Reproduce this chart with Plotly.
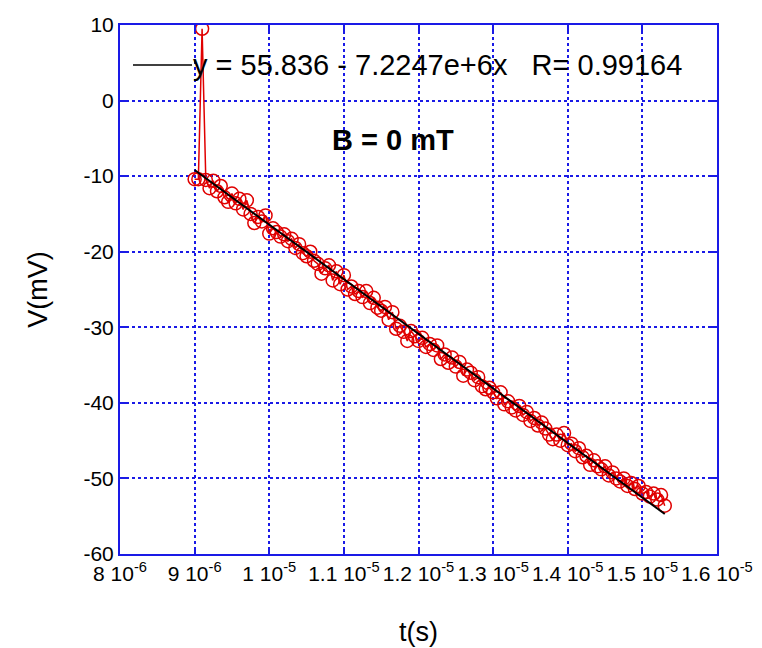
import plotly.graph_objects as go

# time in microseconds (converted to seconds below)
t_us = [9.00, 9.05, 9.10, 9.15, 9.20, 9.25, 9.30, 9.35, 9.40, 9.45,
        9.50, 9.55, 9.60, 9.65, 9.70, 9.75, 9.80, 9.85, 9.90, 9.95,
        10.00, 10.05, 10.10, 10.15, 10.20, 10.25, 10.30, 10.35, 10.40, 10.45,
        10.50, 10.55, 10.60, 10.65, 10.70, 10.75, 10.80, 10.85, 10.90, 10.95,
        11.00, 11.05, 11.10, 11.15, 11.20, 11.25, 11.30, 11.35, 11.40, 11.45,
        11.50, 11.55, 11.60, 11.65, 11.70, 11.75, 11.80, 11.85, 11.90, 11.95,
        12.00, 12.05, 12.10, 12.15, 12.20, 12.25, 12.30, 12.35, 12.40, 12.45,
        12.50, 12.55, 12.60, 12.65, 12.70, 12.75, 12.80, 12.85, 12.90, 12.95,
        13.00, 13.05, 13.10, 13.15, 13.20, 13.25, 13.30, 13.35, 13.40, 13.45,
        13.50, 13.55, 13.60, 13.65, 13.70, 13.75, 13.80, 13.85, 13.90, 13.95,
        14.00, 14.05, 14.10, 14.15, 14.20, 14.25, 14.30, 14.35, 14.40, 14.45,
        14.50, 14.55, 14.60, 14.65, 14.70, 14.75, 14.80, 14.85, 14.90, 14.95,
        15.00, 15.05, 15.10, 15.15, 15.20, 15.25, 15.30]

v_mV = [-10.4, -10.4, 9.5, -10.5, -11.6, -10.6, -12.0, -11.3, -12.8, -13.4,
        -12.3, -13.6, -13.0, -14.4, -13.2, -15.0, -16.2, -15.4, -16.0, -15.2,
        -17.6, -16.9, -17.4, -18.0, -17.7, -18.6, -18.3, -19.5, -19.0, -20.2,
        -20.6, -20.0, -21.2, -21.6, -22.9, -22.2, -21.8, -23.8, -22.6, -24.3,
        -23.1, -25.0, -24.6, -25.6, -25.2, -26.0, -25.2, -26.8, -26.1, -27.4,
        -27.8, -27.3, -29.0, -28.0, -30.2, -29.8, -30.6, -31.8, -30.5, -31.2,
        -31.8, -31.4, -32.6, -32.2, -33.0, -32.4, -34.2, -33.6, -34.7, -34.0,
        -35.2, -34.6, -36.4, -35.6, -36.0, -37.0, -36.6, -37.8, -38.2, -38.0,
        -38.6, -39.4, -38.6, -40.2, -39.8, -40.6, -41.0, -40.4, -41.6, -41.2,
        -42.4, -42.0, -43.0, -42.6, -43.4, -44.2, -44.8, -44.2, -45.0, -44.0,
        -45.6, -45.4, -46.4, -46.0, -47.2, -47.0, -48.2, -47.6, -48.4, -48.8,
        -48.4, -49.6, -49.2, -50.0, -50.4, -50.0, -51.0, -50.6, -51.4, -51.0,
        -52.0, -51.8, -52.4, -52.0, -52.8, -52.2, -53.6]

# linear fit coefficients (from the legend)
fit_a = 55.836
fit_b = -7.2247e6
fit_R = 0.99164

x_ticks = [8e-6, 9e-6, 1e-5, 1.1e-5, 1.2e-5, 1.3e-5, 1.4e-5, 1.5e-5, 1.6e-5]
x_ticktext = ["8 10<sup>-6</sup>", "9 10<sup>-6</sup>", "1 10<sup>-5</sup>",
              "1.1 10<sup>-5</sup>", "1.2 10<sup>-5</sup>", "1.3 10<sup>-5</sup>",
              "1.4 10<sup>-5</sup>", "1.5 10<sup>-5</sup>", "1.6 10<sup>-5</sup>"]
y_ticks = [-60, -50, -40, -30, -20, -10, 0, 10]
y_ticktext = ["-60", "-50", "-40", "-30", "-20", "-10", "0", "10"]

t_s = [t * 1e-6 for t in t_us]
fit_x = [t_s[0], t_s[-1]]
fit_y = [fit_a + fit_b * x for x in fit_x]

BLUE = "#1a1ae6"
FONT = "Liberation Sans, Arial, sans-serif"

fig = go.Figure()
fig.add_trace(go.Scatter(
    x=t_s, y=v_mV, mode="lines+markers",
    line=dict(color="#e00000", width=1.5),
    marker=dict(symbol="circle-open", size=13, color="#e00000", line=dict(width=1.5)),
    showlegend=False,
))
fig.add_trace(go.Scatter(
    x=fit_x, y=fit_y, mode="lines",
    line=dict(color="black", width=2),
    showlegend=False,
))

axis_common = dict(
    showline=True, linecolor=BLUE, linewidth=2, mirror="ticks",
    ticks="inside", tickcolor=BLUE, ticklen=6, tickwidth=1.5,
    showgrid=True, gridcolor=BLUE, griddash="dot", gridwidth=1.5,
    zeroline=False, automargin=False,
)

fig.update_xaxes(
    range=[8e-6, 1.6e-5], tickvals=x_ticks, ticktext=x_ticktext, tickangle=0,
    tickfont=dict(family=FONT, size=21, color="black"),
    title=dict(text="t(s)", font=dict(family=FONT, size=27, color="black"), standoff=38),
    **axis_common,
)
fig.update_yaxes(
    range=[-60, 10], tickvals=y_ticks, ticktext=y_ticktext,
    tickfont=dict(family=FONT, size=21, color="black"),
    title=dict(text="V(mV)", font=dict(family=FONT, size=27, color="black"), standoff=28),
    **axis_common,
)

# legend-like annotation for fit line
fig.add_shape(type="line", xref="paper", yref="paper",
              x0=(133 - 120) / 597, x1=(192 - 120) / 597,
              y0=(554 - 65) / 529, y1=(554 - 65) / 529,
              line=dict(color="black", width=1.5))
fig.add_annotation(
    xref="paper", yref="paper", x=(191 - 120) / 597, y=(554 - 65) / 529,
    xanchor="left", yanchor="middle", showarrow=False,
    text=f"y = {fit_a} - 7.2247e+6x   R= {fit_R}",
    font=dict(family=FONT, size=29, color="black"),
)
fig.add_annotation(
    xref="paper", yref="paper", x=(393 - 120) / 597, y=(554 - 140) / 529,
    xanchor="center", yanchor="middle", showarrow=False,
    text="<b>B = 0 mT</b>",
    font=dict(family=FONT, size=29, color="black"),
)

fig.update_layout(
    width=762, height=648,
    margin=dict(l=120, r=45, t=25, b=94),
    plot_bgcolor="white", paper_bgcolor="white",
    font=dict(family=FONT, color="black"),
)

fig.write_html("out.html")
